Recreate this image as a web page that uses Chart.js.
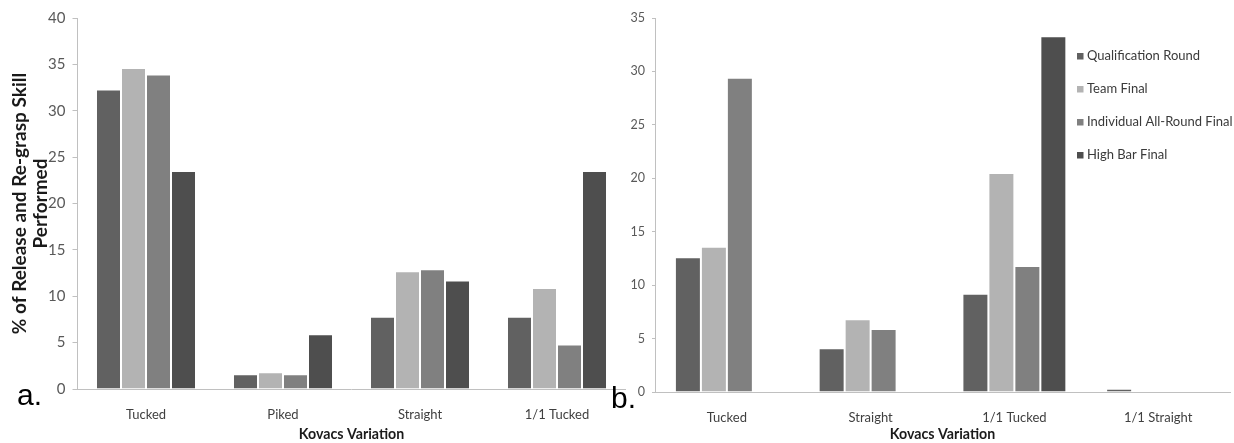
<!DOCTYPE html>
<html>
<head>
<meta charset="utf-8">
<script src="https://cdn.jsdelivr.net/npm/chart.js@4.4.1/dist/chart.umd.min.js"></script>
<style>
html, body { margin: 0; padding: 0; background: #fff; }
body { width: 1234px; height: 443px; position: relative; overflow: hidden; }
.panel { position: absolute; top: 0; height: 443px; }
#panelA { left: 0; width: 626px; }
#panelB { left: 626px; width: 608px; }
.tag { position: absolute; font-family: "Liberation Sans", Arial, sans-serif; font-size: 30px; line-height: 1; color: #000; }
</style>
</head>
<body>
<div class="panel" id="panelA"><canvas id="chartA"></canvas></div>
<div class="panel" id="panelB"><canvas id="chartB"></canvas></div>
<div class="tag" style="left:17px; top:380px;">a.</div>
<div class="tag" style="left:611px; top:383px;">b.</div>

<script>
const FONT = 'Lato, "Liberation Sans", Arial, sans-serif';

const seriesNames = ["Qualification Round", "Team Final", "Individual All-Round Final", "High Bar Final"];
const seriesColors = ["#616161", "#b3b3b3", "#808080", "#4e4e4e"];

// panel a
const categoriesA = ["Tucked", "Piked", "Straight", "1/1 Tucked"];
const qualificationA = [32.3, 1.6, 7.8, 7.8];
const teamFinalA = [34.6, 1.8, 12.7, 10.9];
const allRoundA = [33.9, 1.6, 12.9, 4.8];
const highBarA = [23.5, 5.9, 11.7, 23.5];

// panel b
const categoriesB = ["Tucked", "Straight", "1/1 Tucked", "1/1 Straight"];
const qualificationB = [12.6, 4.1, 9.2, 0.3];
const teamFinalB = [13.6, 6.8, 20.5, 0];
const allRoundB = [29.4, 5.9, 11.8, 0];
const highBarB = [0, 0, 33.3, 0];

const yTitleA = ["% of Release and Re-grasp Skill", "Performed"];
const xTitle = "Kovacs Variation";

// legend drawn inside the plot, on the right side of panel b
const sideLegend = {
    id: "sideLegend",
    afterDraw(chart, args, opts) {
        if (!opts.show) return;
        const { ctx, chartArea } = chart;
        ctx.save();
        ctx.font = `${opts.size}px ${FONT}`;
        ctx.textBaseline = "middle";
        ctx.textAlign = "left";
        chart.data.datasets.forEach((ds, i) => {
            const x = chartArea.right - opts.fromRight;
            const y = opts.top + i * opts.gap;
            ctx.fillStyle = ds.backgroundColor;
            ctx.fillRect(x, y - 3, 6.5, 6.5);
            ctx.fillStyle = "#3a3a3a";
            ctx.fillText(ds.label, x + 10, y);
        });
        ctx.restore();
    }
};

function makeChart(id, cfg) {
    const ctx = document.getElementById(id);
    const series = [cfg.q, cfg.t, cfg.a, cfg.h];
    return new Chart(ctx, {
        type: "bar",
        data: {
            labels: cfg.labels,
            datasets: series.map((vals, i) => ({
                label: seriesNames[i],
                data: vals,
                backgroundColor: seriesColors[i],
                borderColor: "rgba(255,255,255,0.35)",
                borderWidth: 1,
                barPercentage: 1,
                categoryPercentage: cfg.catPct
            }))
        },
        options: {
            responsive: true,
            maintainAspectRatio: false,
            animation: false,
            layout: { padding: { top: 18, right: cfg.padRight, left: 0, bottom: 0 } },
            plugins: {
                legend: { display: false },
                tooltip: { enabled: false },
                sideLegend: { show: cfg.legend, size: 13, top: 56, gap: 33, fromRight: 153 }
            },
            scales: {
                x: {
                    afterFit: (s) => { s.height = cfg.xHeight; },
                    grid: { display: false, drawTicks: false },
                    border: { display: true, color: "#c0c0c0", width: 1 },
                    ticks: { color: "#404040", padding: cfg.xPad, font: { family: FONT, size: 13 } },
                    title: {
                        display: true, text: xTitle, color: "#1a1a1a",
                        padding: { top: 0, bottom: 0 },
                        font: { family: FONT, size: 14.2, weight: "bold" }
                    }
                },
                y: {
                    min: 0, max: cfg.yMax,
                    afterFit: (s) => { s.width = cfg.yWidth; },
                    grid: { display: true, drawOnChartArea: false, drawTicks: true, tickLength: cfg.tickLen, color: "#c0c0c0" },
                    border: { display: true, color: "#c0c0c0", width: 1 },
                    ticks: { stepSize: 5, color: "#595959", padding: 7, font: { family: FONT, size: cfg.tickSize } },
                    title: cfg.yTitle ? {
                        display: true, text: cfg.yTitle, color: "#1a1a1a",
                        padding: { top: 8.5, bottom: 0 },
                        font: { family: FONT, size: 19, weight: "bold", lineHeight: 1.15 }
                    } : { display: false }
                }
            }
        },
        plugins: [sideLegend]
    });
}

makeChart("chartA", {
    labels: categoriesA, q: qualificationA, t: teamFinalA, a: allRoundA, h: highBarA,
    catPct: 0.73, padRight: 0.5, xHeight: 54, xPad: 18, yMax: 40, yWidth: 77.5,
    tickLen: 5, tickSize: 15, yTitle: yTitleA, legend: false
});

makeChart("chartB", {
    labels: categoriesB, q: qualificationB, t: teamFinalB, a: allRoundB, h: highBarB,
    catPct: 0.723, padRight: 4, xHeight: 51, xPad: 18.5, yMax: 35, yWidth: 29,
    tickLen: 3, tickSize: 12.5, yTitle: null, legend: true
});
</script>
</body>
</html>
